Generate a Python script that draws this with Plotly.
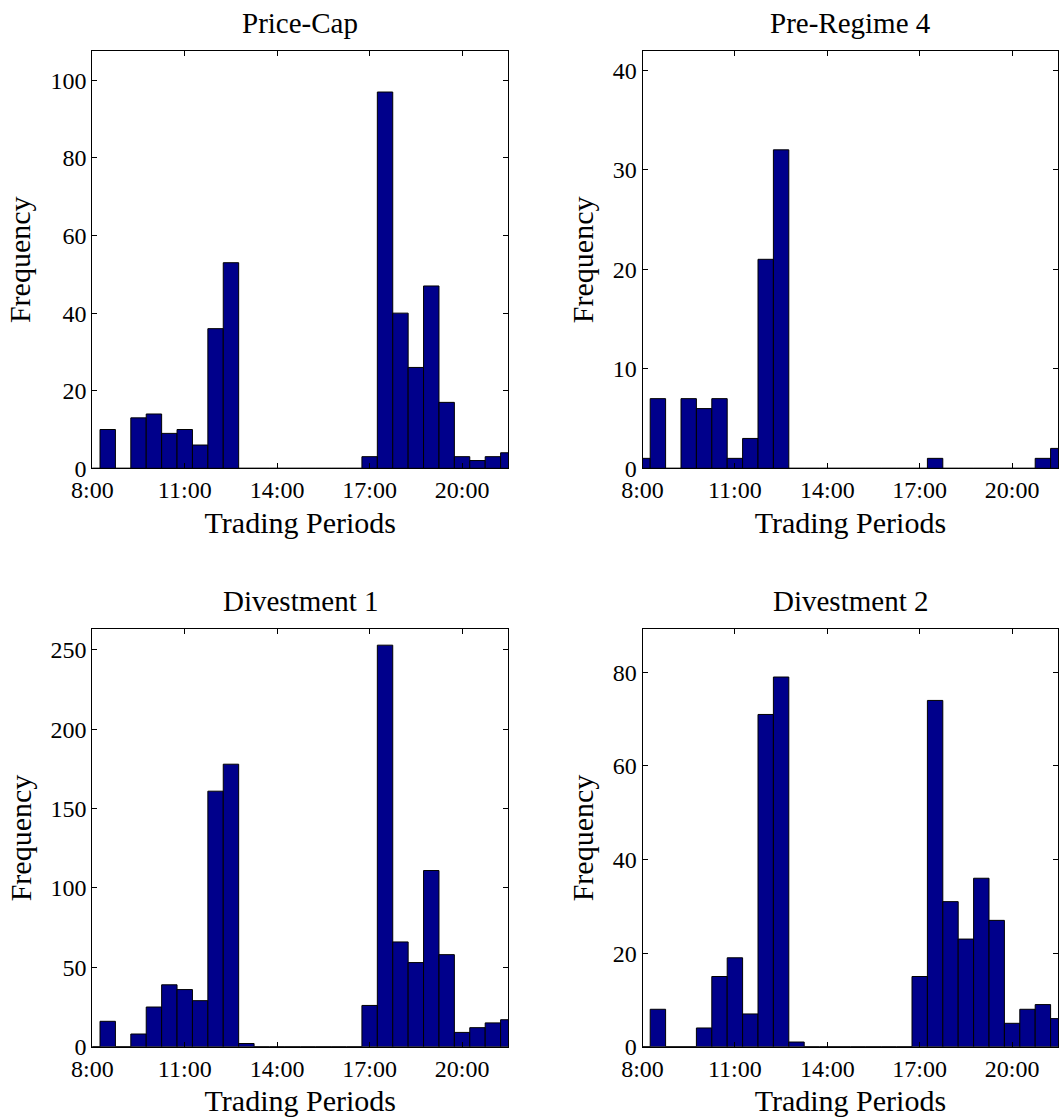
import plotly.graph_objects as go

# ---- data ----
bin_centers = [8.0, 8.5, 9.0, 9.5, 10.0, 10.5, 11.0, 11.5, 12.0, 12.5, 13.0, 13.5, 14.0, 14.5,
               15.0, 15.5, 16.0, 16.5, 17.0, 17.5, 18.0, 18.5, 19.0, 19.5, 20.0, 20.5, 21.0, 21.5]
price_cap = [0, 10, 0, 13, 14, 9, 10, 6, 36, 53, 0, 0, 0, 0,
             0, 0, 0, 0, 3, 97, 40, 26, 47, 17, 3, 2, 3, 4]
pre_regime_4 = [1, 7, 0, 7, 6, 7, 1, 3, 21, 32, 0, 0, 0, 0,
                0, 0, 0, 0, 0, 1, 0, 0, 0, 0, 0, 0, 1, 2]
divestment_1 = [0, 16, 0, 8, 25, 39, 36, 29, 161, 178, 2, 0, 0, 0,
                0, 0, 0, 0, 26, 253, 66, 53, 111, 58, 9, 12, 15, 17]
divestment_2 = [0, 8, 0, 0, 4, 15, 19, 7, 71, 79, 1, 0, 0, 0,
                0, 0, 0, 0, 15, 74, 31, 23, 36, 27, 5, 8, 9, 6]

panel_titles = ["Price-Cap", "Pre-Regime 4", "Divestment 1", "Divestment 2"]
series = [price_cap, pre_regime_4, divestment_1, divestment_2]
y_max = [107.5, 41.9, 263, 89.2]
y_dtick = [20, 10, 50, 20]
x_tickvals = [8, 11, 14, 17, 20]
x_ticktext = ["8:00", "11:00", "14:00", "17:00", "20:00"]
x_label = "Trading Periods"
y_label = "Frequency"

W, H = 1060, 1119
FONT = "Liberation Serif"

# panel pixel boxes (left, right, top, bottom)
col_px = [(92.3, 508.3), (642.5, 1058.3)]
row_px = [(51.3, 468.3), (629.3, 1046.7)]

fig = go.Figure()
layout = dict(
    width=W, height=H, margin=dict(l=0, r=0, t=0, b=0, autoexpand=False),
    paper_bgcolor="white", plot_bgcolor="white",
    showlegend=False, font=dict(family=FONT, size=23, color="black"),
    annotations=[],
)

for i in range(4):
    r, c = divmod(i, 2)
    xl, xr = col_px[c]
    yt, yb = row_px[r]
    ax = "" if i == 0 else str(i + 1)
    fig.add_trace(go.Bar(
        x=bin_centers, y=series[i], width=0.5,
        marker=dict(color="#00008B", line=dict(color="black", width=1)),
        xaxis="x" + ax, yaxis="y" + ax,
    ))
    layout["xaxis" + ax] = dict(
        domain=[xl / W, xr / W], anchor="y" + ax, range=[8, 21.5],
        tickvals=x_tickvals, ticktext=x_ticktext,
        ticks="inside", ticklen=5, tickcolor="black", tickwidth=1,
        showline=True, linecolor="black", linewidth=1, mirror="ticks",
        showgrid=False, zeroline=False, automargin=False,
        tickfont=dict(family=FONT, size=24),
        title=dict(text=x_label, font=dict(family=FONT, size=30), standoff=9),
    )
    layout["yaxis" + ax] = dict(
        domain=[1 - yb / H, 1 - yt / H], anchor="x" + ax, range=[0, y_max[i]],
        dtick=y_dtick[i], tick0=0,
        ticks="inside", ticklen=5, tickcolor="black", tickwidth=1,
        showline=True, linecolor="black", linewidth=1, mirror="ticks",
        showgrid=False, zeroline=False, automargin=False,
        tickfont=dict(family=FONT, size=24),
        title=dict(text=y_label, font=dict(family=FONT, size=30), standoff=10),
    )
    layout["annotations"].append(dict(
        text=panel_titles[i], xref="paper", yref="paper",
        x=(xl + xr) / 2 / W, y=1 - (yt - 28) / H,
        xanchor="center", yanchor="middle", showarrow=False,
        font=dict(family=FONT, size=29, color="black"),
    ))

fig.update_layout(**layout)
fig.write_html("out.html")
